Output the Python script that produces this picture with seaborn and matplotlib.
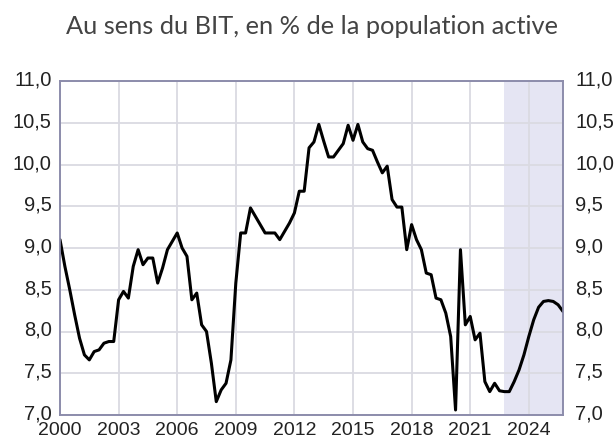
import numpy as np
import pandas as pd
import matplotlib
matplotlib.use("Agg")
import matplotlib.pyplot as plt
from matplotlib.ticker import FuncFormatter
from matplotlib.transforms import ScaledTranslation
import seaborn as sns

# Quarterly unemployment rate (BIT), 2000 Q1 -> 2025 Q4
start_year = 2000
unemployment = [
    9.10, 8.78, 8.50, 8.20, 7.92, 7.72, 7.66, 7.76, 7.78, 7.86, 7.88, 7.88,   # 2000-2002
    8.38, 8.48, 8.40, 8.78, 8.98, 8.80, 8.88, 8.88, 8.58, 8.76, 8.98, 9.08,   # 2003-2005
    9.18, 9.00, 8.90, 8.38, 8.46, 8.08, 8.00, 7.62, 7.16, 7.30, 7.38, 7.66,   # 2006-2008
    8.58, 9.18, 9.18, 9.48, 9.38, 9.28, 9.18, 9.18, 9.18, 9.10, 9.20, 9.30,   # 2009-2011
    9.42, 9.68, 9.68, 10.20, 10.27, 10.48, 10.28, 10.09, 10.09, 10.17, 10.25, 10.47,  # 2012-2014
    10.29, 10.48, 10.27, 10.19, 10.17, 10.03, 9.90, 9.98, 9.58, 9.49, 9.49, 8.98,     # 2015-2017
    9.28, 9.10, 8.98, 8.70, 8.68, 8.40, 8.38, 8.22, 7.94, 7.06, 8.98, 8.08,   # 2018-2020
    8.18, 7.90, 7.98, 7.40, 7.28, 7.38, 7.29, 7.28, 7.28, 7.40, 7.54, 7.72,   # 2021-2023
    7.94, 8.14, 8.29, 8.36, 8.37, 8.36, 8.32, 8.24,                           # 2024-2025
]
forecast_start = 2022.75
x_ticks = [2000, 2003, 2006, 2009, 2012, 2015, 2018, 2021, 2024]
y_ticks = [7.0, 7.5, 8.0, 8.5, 9.0, 9.5, 10.0, 10.5, 11.0]
title = "Au sens du BIT, en % de la population active"

df = pd.DataFrame({
    "date": start_year + np.arange(len(unemployment)) / 4.0,
    "taux": unemployment,
})

sns.set_theme(style="white")
plt.rcParams["font.family"] = ["Liberation Sans", "DejaVu Sans"]

fig = plt.figure(figsize=(6.14, 4.43), dpi=100)
ax = fig.add_axes([60 / 614, 1 - 415 / 443, (563 - 60) / 614, (415 - 81) / 443])

xmax = df["date"].iloc[-1]
ax.axvspan(forecast_start, xmax, color="#e5e5f3", zorder=0, lw=0)
ax.grid(True, color="#dadae2", lw=1.3, zorder=1)
ax.set_axisbelow(True)

sns.lineplot(data=df, x="date", y="taux", ax=ax, color="black", lw=2.2, zorder=3)

ax.set_xlim(start_year, xmax)
ax.set_ylim(7.0, 11.0)
ax.set_xticks(x_ticks)
ax.set_yticks(y_ticks)
fmt = FuncFormatter(lambda v, p: f"{v:.1f}".replace(".", ","))
ax.yaxis.set_major_formatter(fmt)
ax.set_xlabel("")
ax.set_ylabel("")
tick_font = "Liberation Sans"
ax.tick_params(axis="y", length=0, labelsize=14.5, colors="#222222",
               labelfontfamily=tick_font, pad=6)
ax.tick_params(axis="x", length=0, labelsize=14, colors="#222222",
               labelfontfamily=tick_font, pad=5)

ax2 = ax.twinx()
ax2.set_ylim(7.0, 11.0)
ax2.set_yticks(y_ticks)
ax2.yaxis.set_major_formatter(fmt)
ax2.tick_params(axis="y", length=0, labelsize=14.5, colors="#222222", pad=9,
                labelfontfamily=tick_font)
ax2.grid(False)

up = ScaledTranslation(0, 3 / 100, fig.dpi_scale_trans)
for lab in ax.get_yticklabels() + ax2.get_yticklabels():
    lab.set_verticalalignment("center_baseline")
    lab.set_transform(lab.get_transform() + up)

for a in (ax, ax2):
    for s in a.spines.values():
        s.set_color("#8c8cab")
        s.set_linewidth(1.2)

fig.text(0.5 * (63 + 560) / 614, 1 - 26 / 443, title, ha="center", va="center",
         fontsize=18.3, color="#444444", family=["Lato", "DejaVu Sans"])

fig.savefig("out.png", dpi=100)
